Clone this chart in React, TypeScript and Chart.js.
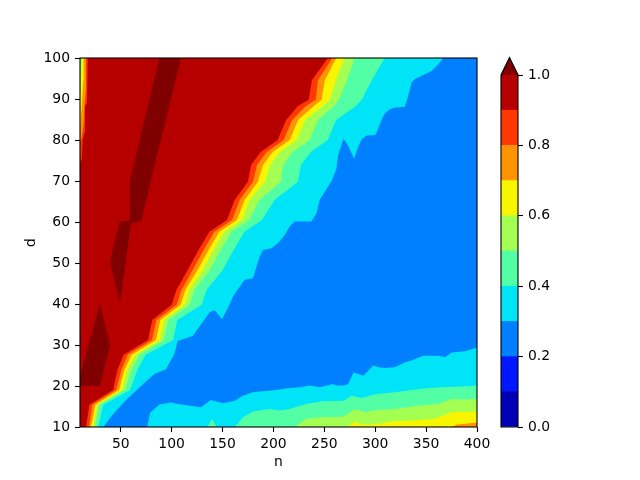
import React, { useEffect, useRef } from "react";
import { Chart, registerables } from "chart.js";
Chart.register(...registerables);

type P = [number, number];

// axes
const nRange: P = [10, 400];
const dRange: P = [10, 100];
const xTicks = [50, 100, 150, 200, 250, 300, 350, 400];
const yTicks = [10, 20, 30, 40, 50, 60, 70, 80, 90, 100];
const cbTicks = [0, 0.2, 0.4, 0.6, 0.8, 1.0];
const levels = [0, 0.1, 0.2, 0.3, 0.4, 0.5, 0.6, 0.7, 0.8, 0.9, 1.0];
// jet colours of the bands [0-0.1 ... 0.9-1.0] and the "over" colour
const bandColors = ["#0000b6", "#0018ff", "#0080ff", "#00e4f8", "#53ffa4", "#a4ff53", "#f8f500", "#ff9400", "#ff3800", "#b60000"];
const overColor = "#800000";

// contour lines of the main diagonal front, [n, d], top edge -> bottom edge
const main09: P[] = [[253.6,100],[237.8,94.6],[234.7,89.8],[224.1,88.3],[212.5,84.9],[204.2,80],[187.5,77.1],[178.0,73.9],[175.0,69.8],[162.0,65.4],[154.4,60.5],[137.1,57.6],[126.5,53.2],[115.8,48.3],[104.7,43.4],[100.1,39.8],[81.0,36.1],[76.8,31.2],[52.9,27.6],[46.7,23.9],[42.5,19],[19.2,15.4],[15.9,10]];
const main08: P[] = [[257.9,100],[243.7,94.6],[241.6,89.8],[232.0,88.3],[218.4,84.9],[210.1,80],[193.4,77.1],[183.9,73.9],[179.9,69.8],[166.9,65.4],[159.3,60.5],[142.0,57.6],[131.4,53.2],[120.7,48.3],[109.6,43.4],[105.0,39.8],[84.9,36.1],[80.7,31.2],[56.8,27.6],[50.6,23.9],[45.4,19],[22.1,15.4],[18.8,10]];
const main07: P[] = [[261.8,100],[250.5,94.6],[247.4,89.8],[239.8,88.3],[224.3,84.9],[216.0,80],[199.3,77.1],[189.8,73.9],[184.8,69.8],[171.8,65.4],[164.2,60.5],[146.9,57.6],[136.3,53.2],[125.6,48.3],[113.5,43.4],[108.9,39.8],[88.9,36.1],[84.7,31.2],[60.8,27.6],[53.6,23.9],[48.4,19],[25.1,15.4],[20.8,10]];
const main06: P[] = [[270.0,100],[261.4,94.6],[255.3,89.8],[248.7,88.3],[231.2,84.9],[222.9,80],[206.2,77.1],[196.7,73.9],[191.7,69.8],[176.7,65.4],[169.1,60.5],[151.8,57.6],[141.2,53.2],[130.5,48.3],[117.5,43.4],[112.9,39.8],[92.8,36.1],[88.6,31.2],[64.7,27.6],[56.5,23.9],[51.3,19],[27.1,15.4],[22.8,10]];
const main05: P[] = [[279.8,100],[272.2,94.6],[264.2,89.8],[259.5,88.3],[243.9,84.9],[235.6,80],[218.9,77.1],[209.4,73.9],[207.4,69.8],[186.6,65.4],[176.0,60.5],[158.7,57.6],[148.1,53.2],[137.4,48.3],[122.4,43.4],[117.8,39.8],[96.7,36.1],[92.5,31.2],[68.6,27.6],[60.5,23.9],[54.3,19],[29.0,15.4],[24.7,10]];
const main04: P[] = [[309.3,100],[296.7,94.6],[286.8,89.8],[281.1,88.3],[261.6,84.9],[253.3,80],[236.6,77.1],[227.1,73.9],[224.1,69.8],[201.3,65.4],[188.8,60.5],[171.5,57.6],[160.9,53.2],[150.2,48.3],[134.2,43.4],[129.6,39.8],[105.6,36.1],[101.4,31.2],[74.5,27.6],[66.3,23.9],[59.2,19],[33.0,15.4],[27.7,10]];
const main03: P[] = [[367.0,100],[362.1,98.5],[355.5,96.8],[339.1,94.9],[335.8,94.0],[334.2,92.4],[329.2,88.1],[319.4,87.9],[314.5,87.5],[309.6,86.5],[306.4,85.0],[301.4,81.8],[299.8,81.2],[291.6,81.1],[286.7,80.2],[283.5,78.5],[279.2,75.4],[273.7,78.5],[270.3,79.8],[268.7,80.2],[263.4,76.1],[261.9,72.9],[257.2,70.0],[245.5,65.4],[242.2,62.1],[237.3,60.1],[220.9,60.1],[216.0,58.9],[211.1,56.8],[204.5,54.8],[198.0,53.6],[189.8,53.2],[186.5,51.5],[183.3,49.1],[179.9,46.3],[171.8,45.9],[166.9,44.2],[160.3,41.8],[157.1,40.0],[149.5,36.3],[142.3,38.5],[137.4,38.0],[120.7,32.2],[106.0,31.0],[102.7,27.8],[94.5,24.1],[83.1,22.9],[70.0,20.0],[55.0,16.5],[42.0,13.0],[33.0,10]];

// thin low-value strip along the left edge (n = 10), left edge -> top edge
const strip09: P[] = [[10,74.5],[11.7,75.3],[12.7,80.2],[15,82.2],[15,88.3],[16.9,89.1],[17.6,100]];
const strip08: P[] = [[10,79.3],[11.7,80.6],[13.6,84.2],[14.3,88.3],[15.9,92.4],[15.9,100]];
const strip07: P[] = [[10,82.6],[11,85.9],[11.7,88.3],[12.7,92.4],[13.6,95.1],[13.6,100]];
const strip06: P[] = [[10,92.6],[11,95.1],[11.7,98],[11.7,100]];
const strip05: P[] = [[10,98],[11,100]];

// contour lines of the bottom (small d, large n) region, bottom edge -> right edge
const bottom03: P[] = [[76.0,10],[79.0,13.5],[88.0,15.5],[99.4,16.0],[106.0,15.6],[128.9,14.8],[138.4,16.6],[150.5,15.8],[162.0,16.4],[170.1,17.6],[179.9,18.5],[189.8,18.7],[202.9,19.0],[216.0,19.5],[225.8,19.7],[235.6,20.1],[245.5,19.7],[258.5,20.5],[261.9,20.1],[269.0,20.1],[273.6,20.5],[278.6,23.3],[283.5,22.9],[288.4,22.5],[298.2,25.0],[303.1,24.6],[309.6,24.4],[319.4,24.6],[329.3,25.8],[335.8,26.2],[347.3,27.4],[362.1,27.4],[368.5,27.0],[375.1,28.2],[388.2,28.5],[400,29.4]];
const bottom04: P[] = [[135.4,10],[139.4,12.0],[144.3,10],[162.0,10],[170.1,12.4],[179.9,13.8],[196.3,14.4],[206.2,14.0],[216.0,14.4],[225.8,15.2],[235.6,15.8],[248.7,16.3],[269.0,16.4],[276.9,17.6],[286.7,17.1],[299.8,18.0],[319.4,18.5],[345.7,19.3],[365.3,19.7],[381.7,19.8],[400,20.1]];
const bottom05: P[] = [[220.9,10],[232.4,12.0],[245.5,12.4],[269.0,12.5],[280.1,14.4],[290.0,13.6],[299.8,14.1],[319.4,14.4],[342.4,15.2],[362.1,15.6],[375.1,16.8],[388.2,16.7],[400,16.8]];
const bottom06: P[] = [[273.6,10],[280.1,11.4],[285.0,10.6],[299.8,10.6],[316.2,11.4],[332.6,11.5],[358.7,12.0],[375.1,13.6],[400,13.8]];
const bottom07: P[] = [[375.1,10],[380.0,10.6],[400,11.1]];

// patches above 1.0
const overA: P[] = [[10,20],[10,22.5],[29.6,40],[39.5,30],[29.6,20]];
const overB: P[] = [[88,100],[109.2,100],[79.7,70.2],[69.9,60.1],[60.1,59.7],[49.3,40.2],[39.5,50.3],[48.7,60.1],[59.1,60.3],[59.1,70.2]];

const corner: P = [nRange[0], dRange[0]];
const domain: P[] = [[nRange[0], dRange[0]], [nRange[0], dRange[1]], [nRange[1], dRange[1]], [nRange[1], dRange[0]]];
const upper = (strip: P[] | null, main: P[]): P[] => [corner, ...(strip ? strip : [[nRange[0], dRange[1]] as P]), ...main];
const lower = (line: P[]): P[] => [...line, [nRange[1], dRange[0]]];

const layers: { color: string; polys: P[][] }[] = [
  { color: bandColors[2], polys: [domain] },
  { color: bandColors[3], polys: [upper(null, main03), lower(bottom03)] },
  { color: bandColors[4], polys: [upper(null, main04), lower(bottom04)] },
  { color: bandColors[5], polys: [upper(strip05, main05), lower(bottom05)] },
  { color: bandColors[6], polys: [upper(strip06, main06), lower(bottom06)] },
  { color: bandColors[7], polys: [upper(strip07, main07), lower(bottom07)] },
  { color: bandColors[8], polys: [upper(strip08, main08)] },
  { color: bandColors[9], polys: [upper(strip09, main09)] },
  { color: overColor, polys: [overA, overB] },
];

const FONT = { family: "'DejaVu Sans', sans-serif", size: 13.9 };

const contourPlugin = {
  id: "contourFill",
  beforeDatasetsDraw(chart: any) {
    const { ctx, chartArea: a, scales } = chart;
    const xs = scales.x, ys = scales.y;
    ctx.save();
    ctx.beginPath();
    ctx.rect(a.left, a.top, a.right - a.left, a.bottom - a.top);
    ctx.clip();
    for (const layer of layers) {
      ctx.fillStyle = layer.color;
      for (const poly of layer.polys) {
        ctx.beginPath();
        poly.forEach(([n, d], i) => {
          const px = xs.getPixelForValue(n);
          const py = ys.getPixelForValue(d);
          if (i === 0) ctx.moveTo(px, py); else ctx.lineTo(px, py);
        });
        ctx.closePath();
        ctx.fill();
      }
    }
    ctx.restore();
  },
  afterDraw(chart: any) {
    const { ctx, chartArea: a } = chart;
    ctx.save();
    ctx.strokeStyle = "#000";
    ctx.lineWidth = 1.1;
    ctx.strokeRect(a.left, a.top, a.right - a.left, a.bottom - a.top);
    ctx.restore();
  },
};

const colorbarPlugin = {
  id: "cbExtend",
  afterDatasetsDraw(chart: any) {
    const { ctx, chartArea: a } = chart;
    const h = 0.05 * (a.bottom - a.top);
    const cx = (a.left + a.right) / 2;
    ctx.save();
    ctx.fillStyle = overColor;
    ctx.beginPath();
    ctx.moveTo(a.left, a.top);
    ctx.lineTo(cx, a.top - h);
    ctx.lineTo(a.right, a.top);
    ctx.closePath();
    ctx.fill();
    ctx.strokeStyle = "#000";
    ctx.lineWidth = 1.1;
    ctx.beginPath();
    ctx.moveTo(a.left, a.bottom);
    ctx.lineTo(a.left, a.top);
    ctx.lineTo(cx, a.top - h);
    ctx.lineTo(a.right, a.top);
    ctx.lineTo(a.right, a.bottom);
    ctx.closePath();
    ctx.stroke();
    ctx.restore();
  },
};

export default function App() {
  const mainRef = useRef<HTMLCanvasElement>(null);
  const cbRef = useRef<HTMLCanvasElement>(null);

  useEffect(() => {
    Chart.defaults.font.family = FONT.family;
    const main = new Chart(mainRef.current as HTMLCanvasElement, {
      type: "scatter",
      data: { datasets: [] },
      options: {
        animation: false,
        responsive: false,
        events: [],
        layout: { padding: { left: 0, top: 58, right: 163, bottom: 0 } },
        plugins: { legend: { display: false }, tooltip: { enabled: false } },
        scales: {
          x: {
            type: "linear",
            min: nRange[0],
            max: nRange[1],
            afterBuildTicks: (s: any) => { s.ticks = xTicks.map((v) => ({ value: v })); },
            afterFit: (s: any) => { s.height = 53; },
            grid: { drawOnChartArea: false, drawTicks: true, tickLength: 5, color: "#000", tickWidth: 1.1 },
            border: { display: false },
            ticks: { color: "#000", font: FONT, padding: 4, maxRotation: 0, autoSkip: false },
            title: { display: true, text: "n", color: "#000", font: FONT, padding: { top: 0, bottom: 9 } },
          },
          y: {
            type: "linear",
            min: dRange[0],
            max: dRange[1],
            afterBuildTicks: (s: any) => { s.ticks = yTicks.map((v) => ({ value: v })); },
            afterFit: (s: any) => { s.width = 80; },
            grid: { drawOnChartArea: false, drawTicks: true, tickLength: 5, color: "#000", tickWidth: 1.1 },
            border: { display: false },
            ticks: { color: "#000", font: FONT, padding: 5, autoSkip: false },
            title: { display: true, text: "d", color: "#000", font: FONT, padding: { top: 23, bottom: 0 } },
          },
        },
      },
      plugins: [contourPlugin],
    } as any);

    const cb = new Chart(cbRef.current as HTMLCanvasElement, {
      type: "bar",
      data: {
        labels: [""],
        datasets: bandColors.map((c, i) => ({
          data: [levels[i + 1] - levels[i]],
          backgroundColor: c,
          borderWidth: 0,
          barPercentage: 1,
          categoryPercentage: 1,
        })),
      },
      options: {
        animation: false,
        responsive: false,
        events: [],
        layout: { padding: { left: 501, top: 75, right: 0, bottom: 53 } },
        plugins: { legend: { display: false }, tooltip: { enabled: false } },
        scales: {
          x: { display: false, stacked: true },
          y: {
            stacked: true,
            position: "right",
            min: levels[0],
            max: levels[levels.length - 1],
            afterBuildTicks: (s: any) => { s.ticks = cbTicks.map((v) => ({ value: v })); },
            afterFit: (s: any) => { s.width = 122; },
            grid: { drawOnChartArea: false, drawTicks: true, tickLength: 5, color: "#000", tickWidth: 1.1 },
            border: { display: false },
            ticks: { color: "#000", font: FONT, padding: 5, callback: (v: any) => Number(v).toFixed(1) },
          },
        },
      },
      plugins: [colorbarPlugin],
    } as any);

    return () => { main.destroy(); cb.destroy(); };
  }, []);

  return (
    <div style={{ position: "fixed", left: 0, top: 0, width: 640, height: 480, background: "#fff" }}>
      <canvas ref={mainRef} width={640} height={480} style={{ position: "absolute", left: 0, top: 0 }} />
      <canvas ref={cbRef} width={640} height={480} style={{ position: "absolute", left: 0, top: 0 }} />
    </div>
  );
}
